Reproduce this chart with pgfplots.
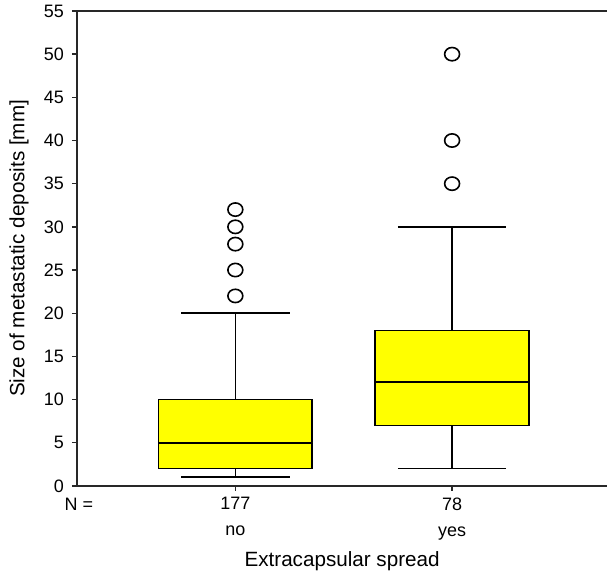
\documentclass[border=0pt]{standalone}
\usepackage{fontspec}
\setmainfont{Liberation Sans}
\usepackage{pgfplots}
\pgfplotsset{compat=1.18}
\usepgfplotslibrary{statistics}
\definecolor{boxyellow}{RGB}{255,255,0}
\definecolor{axisgray}{RGB}{40,40,40}
\begin{document}
\begin{tikzpicture}
\begin{axis}[
  scale only axis,
  width=398.25pt, height=356.6pt,
  xmin=0.269, xmax=2.716,
  ymin=0, ymax=55,
  boxplot/draw direction=y,
  axis x line*=bottom, axis y line*=left,
  axis line style={axisgray, line width=1.1pt},
  ytick={0,5,...,55},
  xtick={1,2},
  xticklabels={{177\\[4.5pt]no},{78\\[4.5pt]yes}},
  x tick label style={align=center, font=\fontsize{13.5}{15}\selectfont, yshift=-1.5pt},
  y tick label style={font=\fontsize{13.5}{15}\selectfont, xshift=-2.5pt},
  /pgf/number format/assume math mode=true,
  tick style={axisgray, line width=1pt},
  tick align=outside,
  major tick length=3.75pt,
  xlabel={Extracapsular spread},
  ylabel={Size of metastatic deposits [mm]},
  every axis y label/.style={at={(rel axis cs:0,0.5)}, xshift=-43.5pt, rotate=90, anchor=center, font=\fontsize{15.5}{18}\selectfont},
  every axis x label/.style={at={(rel axis cs:0.5,0)}, yshift=-56.6pt, anchor=center, font=\fontsize{15.5}{18}\selectfont},
  boxplot/every whisker/.style={line width=1.2pt},
  boxplot/every median/.style={line width=1.2pt},
  boxplot/every box/.style={line width=1.2pt},
  clip=false,
]
\addplot[boxplot prepared={draw position=1, lower whisker=1, lower quartile=2, median=5, upper quartile=10, upper whisker=20, box extend=0.71, whisker extend=0.5},
  boxplot/draw direction=y,
  fill=boxyellow, draw=black, line width=1.2pt,
  mark=o, mark size=5pt, mark options={draw=black, fill=none, xscale=1.12, line width=1.2pt}]
  table[row sep=\\, y index=0] {22\\ 25\\ 28\\ 30\\ 32\\};
\addplot[boxplot prepared={draw position=2, lower whisker=2, lower quartile=7, median=12, upper quartile=18, upper whisker=30, box extend=0.71, whisker extend=0.5},
  boxplot/draw direction=y,
  fill=boxyellow, draw=black, line width=1.2pt,
  mark=o, mark size=5pt, mark options={draw=black, fill=none, xscale=1.12, line width=1.2pt}]
  table[row sep=\\, y index=0] {35\\ 40\\ 50\\};
\draw[axisgray, line width=1.1pt] (rel axis cs:0,1) -- (rel axis cs:1,1);
\node[font=\fontsize{13.5}{15}\selectfont, anchor=center, xshift=1.5pt, yshift=-13.6pt] at (rel axis cs:0,0) {N =};
\path (rel axis cs:0,0) ++(-57.75pt,-67.9pt);
\path (rel axis cs:1,1) ++(0pt,8.25pt);
\end{axis}
\end{tikzpicture}
\end{document}
